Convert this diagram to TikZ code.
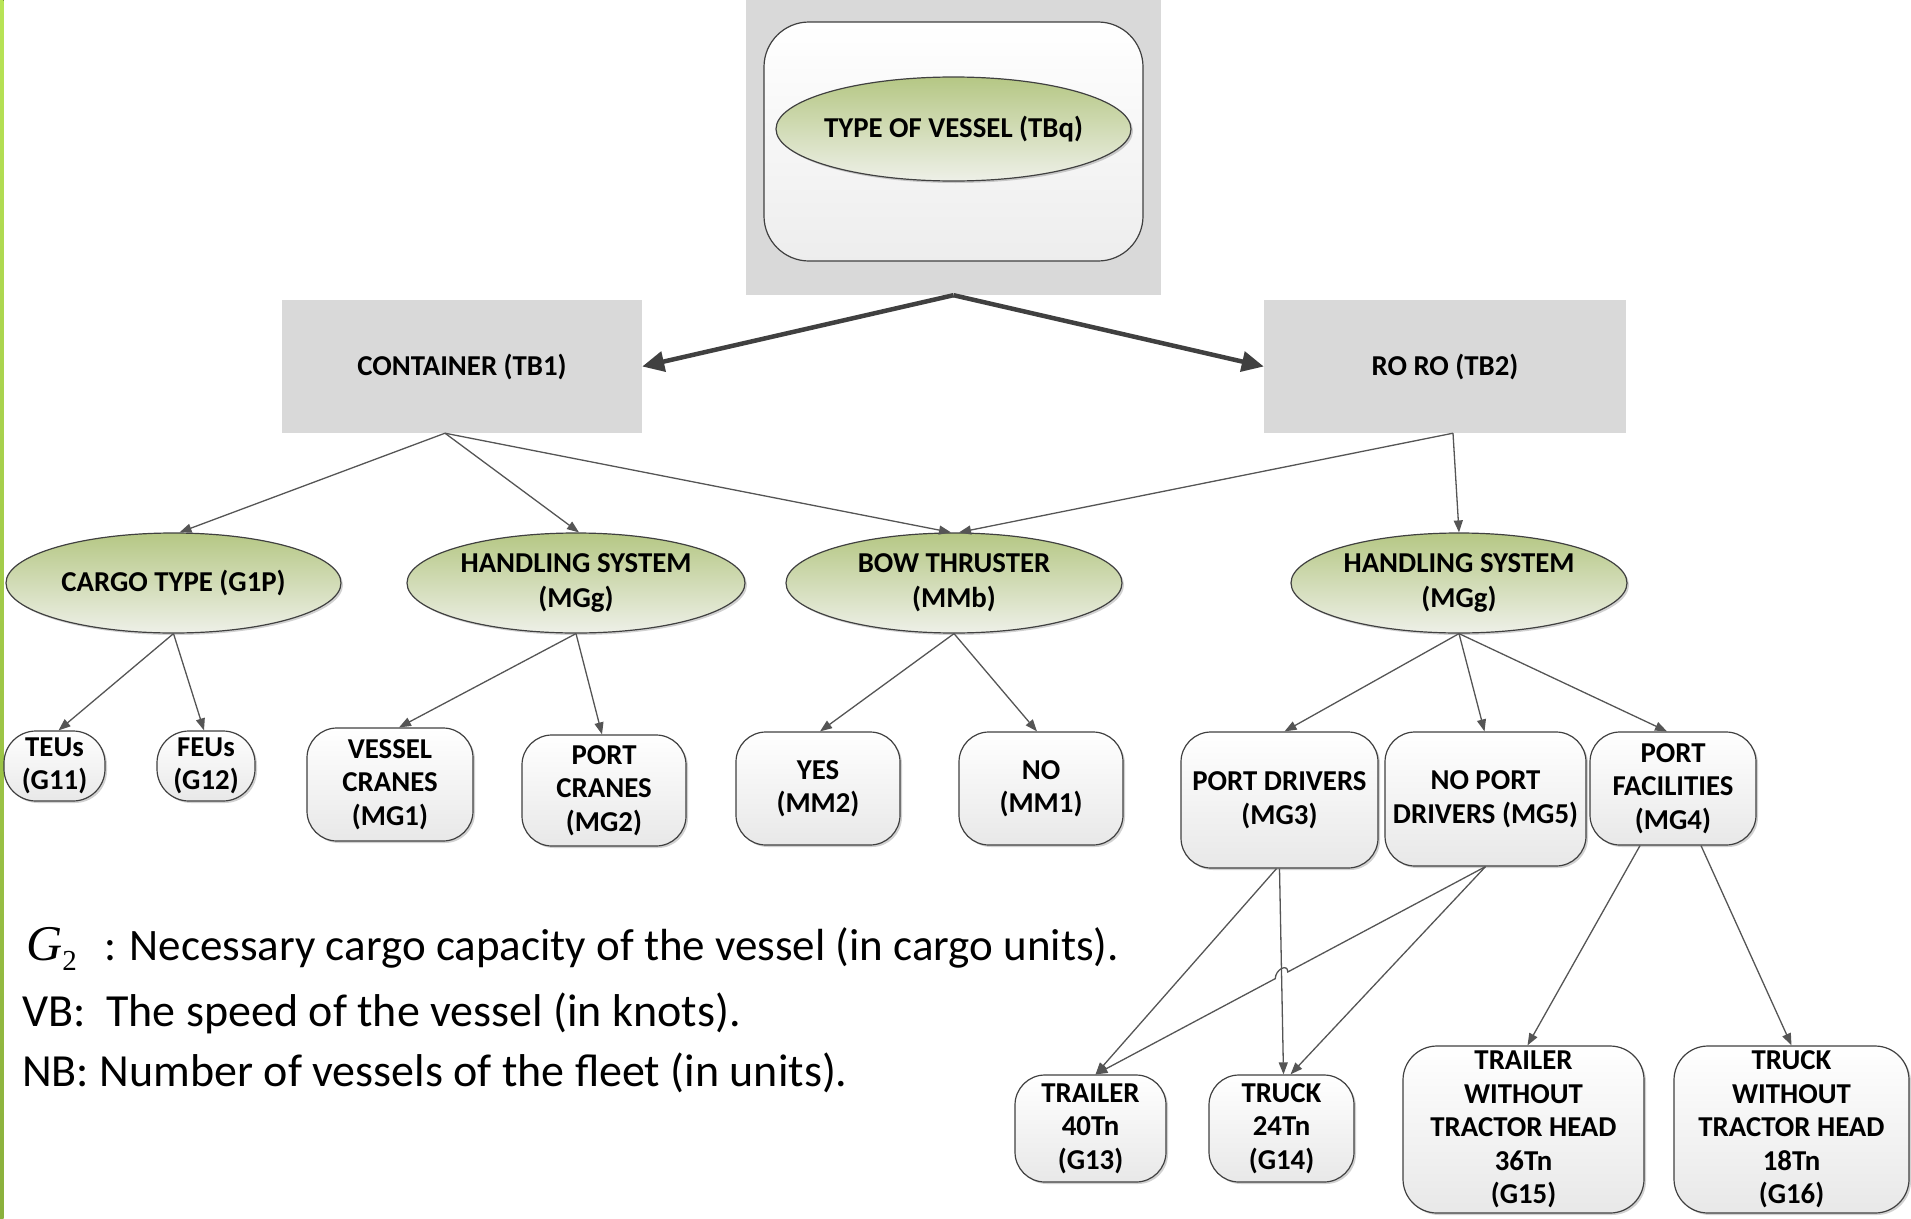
\documentclass[tikz,border=0pt]{standalone}
\usepackage{fontspec}
\setmainfont{Carlito}
\newfontfamily\tnrfont{Liberation Serif}
\usetikzlibrary{shapes.geometric,arrows.meta,calc,shadows}

\definecolor{boxgray}{HTML}{D9D9D9}
\definecolor{edgegray}{HTML}{404040}
\definecolor{linkgray}{HTML}{555555}
\definecolor{bigarrowgray}{HTML}{404040}
\definecolor{ellTop}{RGB}{181,199,132}
\definecolor{ellBot}{RGB}{238,240,232}
\definecolor{rboxBot}{RGB}{232,232,232}
\definecolor{barTop}{RGB}{184,228,86}
\definecolor{barBot}{RGB}{138,176,60}

\newcommand\lblfont{\bfseries\fontsize{28.8}{33.5}\selectfont}
\newcommand\ovalfont{\bfseries\fontsize{28.8}{35}\selectfont}
\newcommand\legfont{\fontsize{46}{52}\selectfont}

\tikzset{
  graybox/.style={rectangle, fill=boxgray, draw=none, inner sep=0pt, align=center, font=\lblfont},
  oval/.style={ellipse, draw=edgegray, line width=1.2pt, top color=ellTop, bottom color=ellBot,
    inner sep=0pt, align=center, font=\ovalfont,
    drop shadow={shadow xshift=2pt, shadow yshift=-2pt, opacity=0.18, fill=black}},
  rbox/.style={rectangle, rounded corners=#1, draw=edgegray, line width=1.2pt, top color=white,
    bottom color=rboxBot, inner sep=0pt, align=center, font=\lblfont,
    drop shadow={shadow xshift=2pt, shadow yshift=-2pt, opacity=0.18, fill=black}},
  rbox/.default=30pt,
  link/.style={draw=linkgray, line width=1.3pt, -{Triangle[length=12pt,width=9pt]}},
  bigarrow/.style={draw=bigarrowgray, line width=4.5pt, -{Triangle[length=22pt,width=20pt]}},
  legend/.style={anchor=base west, inner sep=0pt, font=\legfont},
}

\begin{document}
\begin{tikzpicture}[x=1pt,y=-1pt]
\useasboundingbox (0,0) rectangle (1911,1218);

% green edge strip on the left
\fill[top color=barTop, bottom color=barBot] (0,0) rectangle (3.5,1218);

% root: gray panel, white rounded card, green oval
\node[graybox, minimum width=415, minimum height=295] (topgray) at (953.5,147.5) {};
\node[rectangle, rounded corners=45pt, draw=edgegray, line width=1.2pt, top color=white,
  bottom color=white!93!black, minimum width=379, minimum height=239] (topbox) at (953.5,141.5) {};
\node[oval, minimum width=355, minimum height=104, inner xsep=-7pt] (tbq) at (953.5,129) {TYPE OF VESSEL (TBq)};

% vessel types
\node[graybox, minimum width=360, minimum height=133] (cont) at (462,366.5) {CONTAINER (TB1)};
\node[graybox, minimum width=362, minimum height=133] (roro) at (1445,366.5) {RO RO (TB2)};

% attributes
\node[oval, minimum width=335, minimum height=100] (g1p) at (173.5,583) {CARGO TYPE (G1P)};
\node[oval, minimum width=338, minimum height=100] (mggL) at (576,583) {HANDLING SYSTEM\\(MGg)};
\node[oval, minimum width=336, minimum height=100] (mmb) at (954,583) {BOW THRUSTER\\(MMb)};
\node[oval, minimum width=336, minimum height=100] (mggR) at (1459,583) {HANDLING SYSTEM\\(MGg)};

% attribute values
\node[rbox=32pt, minimum width=101, minimum height=70] (g11) at (54.5,766) {TEUs\\(G11)};
\node[rbox=32pt, minimum width=98, minimum height=70] (g12) at (206,766) {FEUs\\(G12)};
\node[rbox, minimum width=166, minimum height=113] (mg1) at (390,784.5) {VESSEL\\CRANES\\(MG1)};
\node[rbox, minimum width=164, minimum height=111] (mg2) at (604,790.5) {PORT\\CRANES\\(MG2)};
\node[rbox, minimum width=164, minimum height=113] (mm2) at (818,788.5) {YES\\(MM2)};
\node[rbox, minimum width=164, minimum height=113] (mm1) at (1041,788.5) {NO\\(MM1)};
\node[rbox, minimum width=197, minimum height=136] (mg3) at (1279.5,800) {PORT DRIVERS\\(MG3)};
\node[rbox, minimum width=201, minimum height=134] (mg5) at (1485.5,799) {NO PORT\\DRIVERS (MG5)};
\node[rbox, minimum width=166, minimum height=113] (mg4) at (1673,788.5) {PORT\\FACILITIES\\(MG4)};

% vehicles
\node[rbox, minimum width=151, minimum height=107] (g13) at (1090.5,1128.5) {TRAILER\\40Tn\\(G13)};
\node[rbox, minimum width=145, minimum height=107] (g14) at (1281.5,1128.5) {TRUCK\\24Tn\\(G14)};
\node[rbox=34pt, minimum width=241, minimum height=167] (g15) at (1523.5,1129.5) {TRAILER\\WITHOUT\\TRACTOR HEAD\\36Tn\\(G15)};
\node[rbox=34pt, minimum width=235, minimum height=167] (g16) at (1791.5,1129.5) {TRUCK\\WITHOUT\\TRACTOR HEAD\\18Tn\\(G16)};

% legend
\node[legend] (lg2sym) at (26,960) {{\tnrfont\fontsize{50}{56}\selectfont\itshape G}\raisebox{-10pt}{\tnrfont\fontsize{29}{32}\selectfont 2}};
\node[legend, font=\fontsize{45}{52}\selectfont] (lg2) at (104,960) {: Necessary cargo capacity of the vessel (in cargo units).};
\node[legend] (lvb) at (22,1026) {VB:\ \ The speed of the vessel (in knots).};
\node[legend] (lnb) at (22,1086) {NB: Number of vessels of the fleet (in units).};

% main split
\draw[bigarrow] (topgray.south) -- (cont.east);
\draw[bigarrow] (topgray.south) -- (roro.west);

% from vessel types to attributes
\draw[link] ([xshift=-17pt]cont.south) -- ([xshift=6pt]g1p.north);
\draw[link] ([xshift=-17pt]cont.south) -- ([xshift=3pt]mggL.north);
\draw[link] ([xshift=-17pt]cont.south) -- ([xshift=-3pt]mmb.north);
\draw[link] ([xshift=8pt]roro.south) -- ([xshift=5pt]mmb.north);
\draw[link] ([xshift=8pt]roro.south) -- (mggR.north);

% from attributes to values
\draw[link] (g1p.south) -- ([xshift=4pt]g11.north);
\draw[link] (g1p.south) -- ([xshift=-2pt]g12.north);
\draw[link] (mggL.south) -- ([xshift=9pt]mg1.north);
\draw[link] (mggL.south) -- ([xshift=-2pt]mg2.north);
\draw[link] (mmb.south) -- ([xshift=2pt]mm2.north);
\draw[link] (mmb.south) -- ([xshift=-4pt]mm1.north);
\draw[link] (mggR.south) -- ([xshift=5pt]mg3.north);
\draw[link] (mggR.south) -- ([xshift=-1pt]mg5.north);
\draw[link] (mggR.south) -- ([xshift=-6pt]mg4.north);

% from handling options to vehicles
\coordinate (g13in) at ([xshift=5pt]g13.north);
\coordinate (hopA) at ($(mg5.south)!0.507!(g13in)$);
\coordinate (hopB) at ($(mg5.south)!0.539!(g13in)$);
\draw[link] ([xshift=-3pt]mg3.south) -- (g13in);
\draw[link] (mg3.south) -- ([xshift=2pt]g14.north);
\draw[link] (mg5.south) -- (hopA) .. controls +(0,-9) and +(0,-9) .. (hopB) -- (g13in);
\draw[link] (mg5.south) -- ([xshift=9pt]g14.north);
\draw[link] ([xshift=-33pt]mg4.south) -- ([xshift=4pt]g15.north);
\draw[link] ([xshift=28pt]mg4.south) -- (g16.north);
\end{tikzpicture}
\end{document}
